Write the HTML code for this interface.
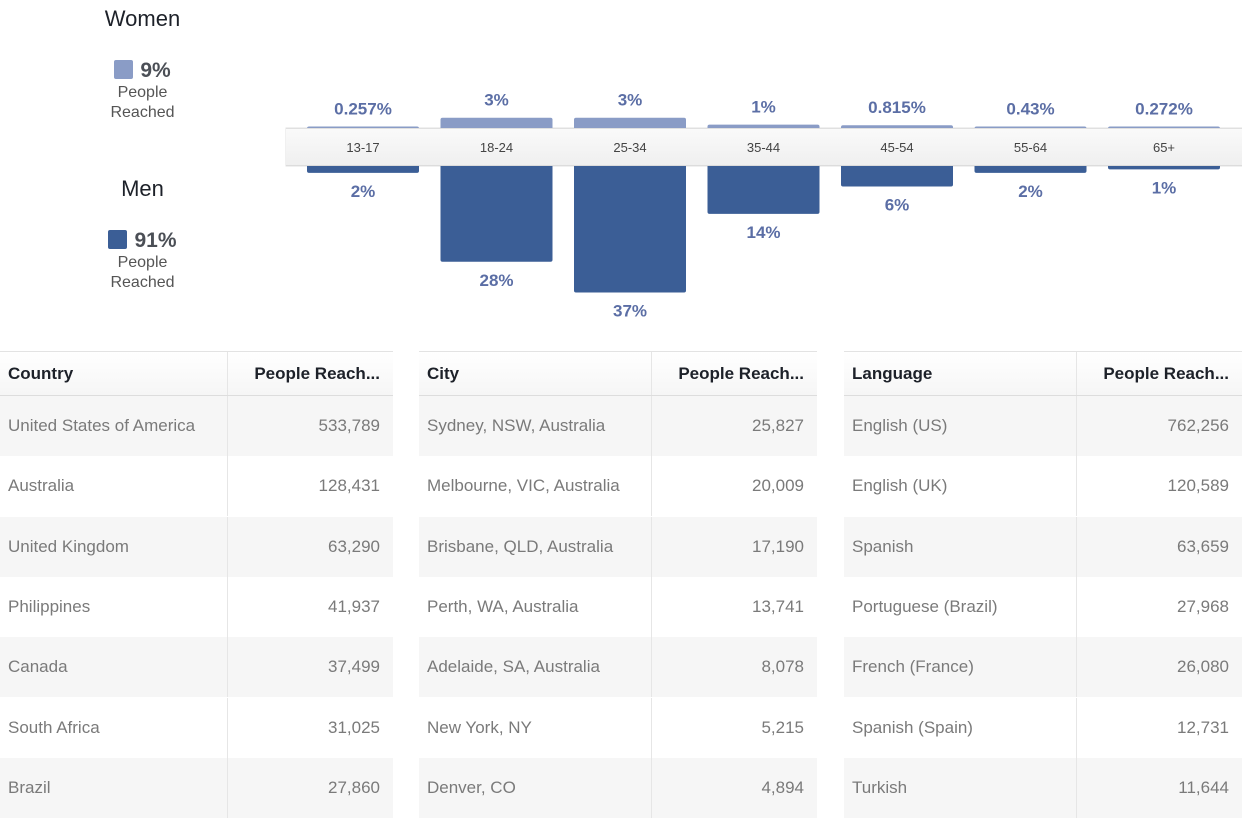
<!DOCTYPE html>
<html><head><meta charset="utf-8"><style>
body{margin:0;width:1242px;height:815px;background:#fff;font-family:"Liberation Sans",sans-serif;position:relative;overflow:hidden}
.abs{position:absolute}
.leg{text-align:center;color:#1d2129}
.tbl{position:absolute;top:351px;border-top:1px solid #e3e3e3}
.row{position:absolute;left:0;right:0;height:60px}
.cell{position:absolute;top:0;height:100%;display:flex;align-items:center;font-size:17px;color:#7a7a7a;box-sizing:border-box;padding:0 8px}
.hdr .cell{color:#1d2129;font-weight:bold;font-size:17px}
.num{justify-content:flex-end;padding-right:13px;border-left:1px solid #e6e6e6}
</style></head><body>
<div class="abs leg" style="left:95px;top:6px;width:95px">
<div style="font-size:22px">Women</div>
<div style="margin-top:27px;font-size:21px;font-weight:bold;color:#4b4f56;"><span style="display:inline-block;width:19px;height:19px;background:#8a9cc6;border-radius:2px;vertical-align:-2px;margin-right:7px"></span>9%</div>
<div style="font-size:16px;color:#555;line-height:20px">People<br>Reached</div></div>
<div class="abs leg" style="left:95px;top:176px;width:95px">
<div style="font-size:22px">Men</div>
<div style="margin-top:27px;font-size:21px;font-weight:bold;color:#4b4f56;"><span style="display:inline-block;width:19px;height:19px;background:#3b5e96;border-radius:2px;vertical-align:-2px;margin-right:7px"></span>91%</div>
<div style="font-size:16px;color:#555;line-height:20px">People<br>Reached</div></div>

<svg id="chart" class="abs" style="left:0;top:0" width="1242" height="330">
<defs><linearGradient id="band" x1="0" y1="0" x2="0" y2="1"><stop offset="0" stop-color="#fafafa"/><stop offset="1" stop-color="#efefef"/></linearGradient></defs>
<rect x="286" y="128" width="956" height="38" fill="url(#band)" stroke="#e2e2e2"/>
</svg>
<script>
const ages=["13-17","18-24","25-34","35-44","45-54","55-64","65+"];
const women=[0.257,3,3,1,0.815,0.43,0.272];
const womenLabels=["0.257%","3%","3%","1%","0.815%","0.43%","0.272%"];
const men=[2,28,37,14,6,2,1];
const menLabels=["2%","28%","37%","14%","6%","2%","1%"];
const svg=document.getElementById('chart');const NS='http://www.w3.org/2000/svg';
const x0=307,step=133.5,bw=112,axTop=128,axBot=166,k=3.42;
function xPos(i){return x0+i*step;}
function h(v){return Math.max(1.5,v*k);}
function mk(t,a){const e=document.createElementNS(NS,t);for(const n in a)e.setAttribute(n,a[n]);svg.appendChild(e);return e;}
ages.forEach((a,i)=>{
 const x=xPos(i);
 const wh=h(women[i]);
 const wb=mk('rect',{x:x,y:axTop-wh,width:bw,height:wh+3,rx:2,fill:'#8a9cc6'});
 
 
 const wl=mk('text',{x:x+bw/2,y:axTop-wh-12,'text-anchor':'middle','font-size':'17','font-weight':'bold',fill:'#5b6ea5'});
 wl.textContent=womenLabels[i];
 
 
 const mh=h(men[i]);
 const mb=mk('rect',{x:x,y:axBot-3,width:bw,height:mh+3,rx:2,fill:'#3b5e96'});
 
 
 const ml=mk('text',{x:x+bw/2,y:axBot+mh+24,'text-anchor':'middle','font-size':'17','font-weight':'bold',fill:'#5b6ea5'});
 ml.textContent=menLabels[i];
 
 
});
const band=mk('rect',{x:286,y:axTop,width:956,height:38,fill:'url(#band)'});


mk('line',{x1:286,y1:axTop+0.5,x2:1242,y2:axTop+0.5,stroke:'#e0e0e0'});
mk('line',{x1:286,y1:axBot-0.5,x2:1242,y2:axBot-0.5,stroke:'#dcdcdc'});
ages.forEach((a,i)=>{
 const t=mk('text',{x:xPos(i)+bw/2,y:152,'text-anchor':'middle','font-size':'13',fill:'#444'});
 t.textContent=a;
 
 
});
</script>

<div id="tables"></div>
<script>
const tables=[
 {left:0,w:393,split:227,name:'country',head:'Country',rows:[["United States of America","533,789"],["Australia","128,431"],["United Kingdom","63,290"],["Philippines","41,937"],["Canada","37,499"],["South Africa","31,025"],["Brazil","27,860"]]},
 {left:419,w:398,split:232,name:'city',head:'City',rows:[["Sydney, NSW, Australia","25,827"],["Melbourne, VIC, Australia","20,009"],["Brisbane, QLD, Australia","17,190"],["Perth, WA, Australia","13,741"],["Adelaide, SA, Australia","8,078"],["New York, NY","5,215"],["Denver, CO","4,894"]]},
 {left:844,w:398,split:232,name:'language',head:'Language',rows:[["English (US)","762,256"],["English (UK)","120,589"],["Spanish","63,659"],["Portuguese (Brazil)","27,968"],["French (France)","26,080"],["Spanish (Spain)","12,731"],["Turkish","11,644"]]}
];
const root=document.getElementById('tables');
tables.forEach(t=>{
 const d=document.createElement('div');d.className='tbl';
 d.style.left=t.left+'px';d.style.width=t.w+'px';d.style.height='464px';
 
 
 const hr=document.createElement('div');hr.className='row hdr';hr.style.top='0';hr.style.height='43px';
 hr.style.background='linear-gradient(#fff,#f6f6f6)';hr.style.borderBottom='1px solid #ddd';
 
 
 hr.innerHTML='<div class="cell" style="left:0;width:'+t.split+'px">'+t.head+'</div><div class="cell num" style="left:'+t.split+'px;width:'+(t.w-t.split)+'px">People Reach...</div>';
 d.appendChild(hr);
 t.rows.forEach((r,i)=>{
  const rw=document.createElement('div');rw.className='row';
  rw.style.top=(44+i*60.3)+'px';rw.style.background=i%2==0?'#f6f6f6':'#fff';
  
  
  rw.innerHTML='<div class="cell" style="left:0;width:'+t.split+'px">'+r[0]+'</div><div class="cell num" style="left:'+t.split+'px;width:'+(t.w-t.split)+'px">'+r[1]+'</div>';
  d.appendChild(rw);
 });
 root.appendChild(d);
});
</script>
</body></html>
